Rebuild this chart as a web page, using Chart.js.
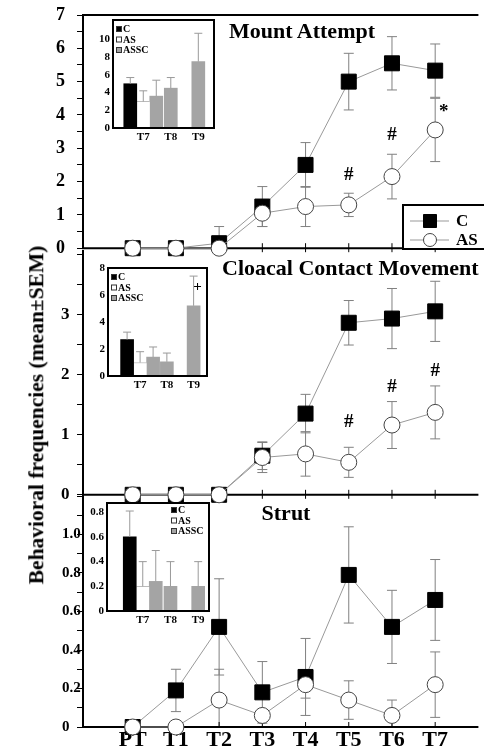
<!DOCTYPE html>
<html>
<head>
<meta charset="utf-8">
<script src="https://cdn.jsdelivr.net/npm/chart.js@4.4.0/dist/chart.umd.min.js"></script>
<style>
html, body { margin: 0; padding: 0; background: #fff; overflow: hidden; }
#wrap { position: relative; width: 484px; height: 754px; overflow: hidden; }
canvas { position: absolute; }
.ttl { position: absolute; font-family: 'Liberation Serif', 'Times New Roman', serif; font-weight: bold; white-space: nowrap; color: #000; line-height: 1; }
</style>
</head>
<body>
<div id="wrap">
  <canvas id="p1" width="490" height="262" style="left:0;top:0"></canvas>
  <canvas id="p2" width="490" height="270" style="left:0;top:238px"></canvas>
  <canvas id="p3" width="490" height="270" style="left:0;top:484px"></canvas>
  <canvas id="i1" width="130" height="140" style="left:88px;top:10px"></canvas>
  <canvas id="i2" width="130" height="140" style="left:83px;top:258px"></canvas>
  <canvas id="i3" width="135" height="140" style="left:78px;top:493px"></canvas>
  <div class="ttl" style="font-size:22px;left:302px;top:31px;transform:translate(-50%,-50%)">Mount Attempt</div>
  <div class="ttl" style="font-size:22px;left:222px;top:268px;transform:translate(0,-50%)">Cloacal Contact Movement</div>
  <div class="ttl" style="font-size:22px;left:286px;top:513px;transform:translate(-50%,-50%)">Strut</div>
  <div class="ttl" style="font-size:21.5px;left:37px;top:415px;transform:translate(-50%,-50%) rotate(-90deg)">Behavioral frequencies (mean±SEM)</div>
</div>
<script>
const serif = "'Liberation Serif', 'Times New Roman', serif";
Chart.defaults.font.family = serif;

// sessions on the x axis
const sessions = ['PT', 'T1', 'T2', 'T3', 'T4', 'T5', 'T6', 'T7'];

// Mount Attempt (mean, SEM)
const mountC     = [0, 0, 0.15, 1.25, 2.5, 5.0, 5.55, 5.33];
const mountCErr  = [0, 0, 0.5, 0.6, 0.67, 0.85, 0.8, 0.8];
const mountAS    = [0, 0, 0, 1.05, 1.25, 1.3, 2.15, 3.55];
const mountASErr = [0, 0, 0, 0.4, 0.6, 0.35, 0.67, 0.95];
const mountNotes = [{x: 5, y: 2.2, text: '#'}, {x: 6, y: 3.4, text: '#'}, {x: 7.2, y: 4.1, text: '*'}];

// Cloacal Contact Movement
const cloacaC     = [0, 0, 0, 0.65, 1.35, 2.86, 2.93, 3.05];
const cloacaCErr  = [0, 0, 0, 0.23, 0.32, 0.37, 0.5, 0.5];
const cloacaAS    = [0, 0, 0, 0.62, 0.68, 0.54, 1.16, 1.37];
const cloacaASErr = [0, 0, 0, 0.25, 0.37, 0.25, 0.39, 0.44];
const cloacaNotes = [{x: 5, y: 1.21, text: '#'}, {x: 6, y: 1.79, text: '#'}, {x: 7, y: 2.05, text: '#'}];

// Strut
const strutC     = [0, 0.19, 0.52, 0.18, 0.26, 0.79, 0.52, 0.66];
const strutCErr  = [0, 0.11, 0.25, 0.16, 0.2, 0.25, 0.19, 0.21];
const strutAS    = [0, 0, 0.14, 0.06, 0.22, 0.14, 0.06, 0.22];
const strutASErr = [0, 0, 0.16, 0, 0.07, 0.1, 0.08, 0.17];

// inset bar charts
const insetGroups = ['T7', 'T8', 'T9'];
const mountInC = [5.0, null, null],   mountInCErr = [0.7, null, null];
const mountInAS = [3.0, null, null],  mountInASErr = [1.2, null, null];
const mountInASSC = [3.6, 4.5, 7.5],  mountInASSCErr = [1.8, 1.2, 3.2];
const cloacaInC = [2.7, null, null],  cloacaInCErr = [0.55, null, null];
const cloacaInAS = [1.0, null, null], cloacaInASErr = [0.8, null, null];
const cloacaInASSC = [1.4, 1.05, 5.2], cloacaInASSCErr = [0.75, 0.65, 2.2];
const cloacaInNotes = [{x: 2.15, y: 6.6, text: '+'}];
const strutInC = [0.6, null, null],   strutInCErr = [0.21, null, null];
const strutInAS = [0.2, null, null],  strutInASErr = [0.2, null, null];
const strutInASSC = [0.24, 0.2, 0.2], strutInASSCErr = [0.25, 0.2, 0.2];

// error bars from the dataset's err array
const errorBars = {
  id: 'errorBars',
  draw(chart, o) {
    const ctx = chart.ctx, y = chart.scales.y;
    ctx.save();
    ctx.strokeStyle = o.color;
    ctx.lineWidth = 1;
    chart.data.datasets.forEach((ds, i) => {
      if (!ds.err) return;
      chart.getDatasetMeta(i).data.forEach((el, j) => {
        const e = ds.err[j], v = ds.data[j];
        if (!e || v == null) return;
        const top = y.getPixelForValue(v + e);
        const bot = o.upOnly ? y.getPixelForValue(v) : y.getPixelForValue(Math.max(0, v - e));
        ctx.beginPath();
        ctx.moveTo(el.x, top); ctx.lineTo(el.x, bot);
        ctx.moveTo(el.x - o.cap, top); ctx.lineTo(el.x + o.cap, top);
        if (!o.upOnly && v - e > 0) { ctx.moveTo(el.x - o.cap, bot); ctx.lineTo(el.x + o.cap, bot); }
        ctx.stroke();
      });
    });
    ctx.restore();
  },
  beforeDatasetsDraw(chart, args, o) { if (!o.upOnly) this.draw(chart, o); },
  afterDatasetsDraw(chart, args, o) { if (o.upOnly) this.draw(chart, o); }
};

// frame lines and x tick marks of a main panel
const frame = {
  id: 'frame',
  beforeDatasetsDraw(chart, args, o) {
    const ctx = chart.ctx, a = chart.chartArea, x = chart.scales.x;
    ctx.save();
    ctx.strokeStyle = '#000';
    ctx.lineWidth = 2;
    ctx.beginPath();
    if (o.top) { ctx.moveTo(a.left - 1, a.top); ctx.lineTo(a.right, a.top); }
    ctx.moveTo(a.left - 1, a.bottom); ctx.lineTo(a.right, a.bottom);
    ctx.stroke();
    ctx.lineWidth = 1;
    ctx.beginPath();
    sessions.forEach((s, i) => {
      const px = x.getPixelForValue(i);
      ctx.moveTo(px, a.bottom - 5);
      ctx.lineTo(px, a.bottom + (o.down ? 4 : 0));
    });
    ctx.stroke();
    ctx.restore();
  }
};

// text marks (#, *, +) placed at data coordinates
const notes = {
  id: 'notes',
  afterDraw(chart, args, o) {
    if (!o.items) return;
    const ctx = chart.ctx;
    ctx.save();
    ctx.fillStyle = '#000';
    ctx.font = 'bold ' + o.size + 'px ' + serif;
    ctx.textAlign = 'center';
    ctx.textBaseline = 'middle';
    o.items.forEach(n => {
      ctx.fillText(n.text, chart.scales.x.getPixelForValue(n.x), chart.scales.y.getPixelForValue(n.y));
    });
    ctx.restore();
  }
};

// boxed legend of the main chart
const mainLegend = {
  id: 'mainLegend',
  afterDraw(chart, args, o) {
    if (!o.box) return;
    const ctx = chart.ctx, b = o.box;
    ctx.save();
    ctx.fillStyle = '#fff';
    ctx.fillRect(b.left, b.top, b.width, b.height);
    ctx.lineWidth = 2;
    ctx.strokeStyle = '#000';
    ctx.strokeRect(b.left, b.top, b.width, b.height);
    ['C', 'AS'].forEach((lab, k) => {
      const ds = chart.data.datasets.find(d => d.label === lab);
      const y = b.top + o.rows[k];
      const cx = b.left + 27;
      ctx.strokeStyle = ds.borderColor;
      ctx.lineWidth = 1;
      ctx.beginPath(); ctx.moveTo(b.left + 7, y); ctx.lineTo(b.left + 46, y); ctx.stroke();
      ctx.fillStyle = ds.pointBackgroundColor;
      ctx.strokeStyle = ds.pointBorderColor;
      ctx.beginPath();
      if (ds.pointStyle === 'rect') ctx.rect(cx - 6.5, y - 6.5, 13, 13);
      else ctx.arc(cx, y, 6.5, 0, Math.PI * 2);
      ctx.fill(); ctx.stroke();
      ctx.fillStyle = '#000';
      ctx.font = 'bold 17px ' + serif;
      ctx.textBaseline = 'middle';
      ctx.fillText(lab, b.left + 53, y + 1);
    });
    ctx.restore();
  }
};

// white boxed plot area with a small legend for the insets
const insetBox = {
  id: 'insetBox',
  beforeDraw(chart) {
    const a = chart.chartArea, ctx = chart.ctx;
    ctx.save(); ctx.fillStyle = '#fff';
    ctx.fillRect(a.left, a.top, a.right - a.left, a.bottom - a.top);
    ctx.restore();
  },
  afterDraw(chart, args, o) {
    const a = chart.chartArea, ctx = chart.ctx;
    ctx.save();
    ctx.lineWidth = 2; ctx.strokeStyle = '#000';
    ctx.strokeRect(a.left, a.top, a.right - a.left, a.bottom - a.top);
    ctx.font = 'bold 10px ' + serif;
    ctx.textBaseline = 'middle';
    chart.data.datasets.forEach((ds, k) => {
      const x = a.left + o.dx, y = a.top + o.dy + k * 10.5;
      ctx.fillStyle = ds.backgroundColor;
      ctx.fillRect(x, y - 3, 6, 6);
      ctx.lineWidth = 1; ctx.strokeStyle = '#333';
      ctx.strokeRect(x + 0.5, y - 2.5, 5, 5);
      ctx.fillStyle = '#000';
      ctx.fillText(ds.label, x + 7, y + 0.5);
    });
    ctx.restore();
  }
};

function makePanel(id, p) {
  return new Chart(document.getElementById(id), {
    type: 'line',
    data: {
      labels: sessions.map((s, i) => i),
      datasets: [
        { label: 'AS', data: p.as, err: p.asErr, order: 0, clip: false,
          pointStyle: 'circle', pointRadius: 8, pointBackgroundColor: '#fff',
          pointBorderColor: '#444', pointBorderWidth: 1,
          borderColor: '#999', borderWidth: 1 },
        { label: 'C', data: p.c, err: p.cErr, order: 1, clip: false,
          pointStyle: 'rect', pointRadius: 10.6, pointBackgroundColor: '#000',
          pointBorderColor: '#000', pointBorderWidth: 1,
          borderColor: '#999', borderWidth: 1 }
      ]
    },
    options: {
      animation: false, responsive: false, events: [],
      layout: { padding: { left: p.left, right: 0, top: 12 + (p.extraTop || 0), bottom: p.bottomPad } },
      scales: {
        x: {
          type: 'linear', min: -1.15, max: 8.0, display: p.showX, offset: false,
          afterBuildTicks(s) { s.ticks = sessions.map((n, i) => ({ value: i })); },
          afterFit(s) { s.height = p.showX ? 27 : 0; },
          ticks: { callback: v => sessions[v], color: '#000', padding: 0, autoSkip: false, maxRotation: 0,
                   font: { size: 22, weight: 'bold' } },
          grid: { display: false, drawTicks: false },
          border: { display: false }
        },
        y: {
          min: 0, max: p.max,
          afterFit(s) { s.width = 83 - p.left; },
          afterBuildTicks(s) { s.ticks = p.ticks.map(v => ({ value: v })); },
          ticks: { crossAlign: 'far', color: '#000', autoSkip: false, callback: p.fmt,
                   font: { size: p.font, weight: 'bold' } },
          grid: { drawOnChartArea: false, tickLength: 6, color: '#000', lineWidth: 1 },
          border: { display: true, color: '#000', width: 2 }
        }
      },
      plugins: {
        legend: { display: false }, tooltip: { enabled: false },
        errorBars: { color: '#808080', cap: 5 },
        frame: { top: p.top, down: p.down },
        notes: { items: p.notes, size: 19 },
        mainLegend: { box: p.legendBox, rows: [16, 35] }
      }
    },
    plugins: [errorBars, frame, notes, mainLegend]
  });
}

function steps(max, step) {
  const out = [];
  for (let v = 0; v <= max + 1e-9; v += step) out.push(Math.round(v * 100) / 100);
  return out;
}

makePanel('p1', {
  c: mountC, cErr: mountCErr, as: mountAS, asErr: mountASErr, notes: mountNotes,
  left: 56, max: 7, ticks: steps(7, 0.5), font: 18, extraTop: 3, bottomPad: 12,
  fmt: v => Number.isInteger(v) ? String(v) : '', top: true, down: true, showX: false,
  legendBox: { left: 403, top: 205, width: 92, height: 44 }
});

makePanel('p2', {
  c: cloacaC, cErr: cloacaCErr, as: cloacaAS, asErr: cloacaASErr, notes: cloacaNotes,
  left: 61, max: 4.05, ticks: steps(4, 0.5), font: 17, bottomPad: 12,
  fmt: v => (Number.isInteger(v) && v < 4) ? String(v) : '', top: false, down: true, showX: false
});

makePanel('p3', {
  c: strutC, cErr: strutCErr, as: strutAS, asErr: strutASErr, notes: [],
  left: 62, max: 1.2, ticks: steps(1.2, 0.1), font: 15, bottomPad: 0,
  fmt: v => v === 0 ? '0' : (Math.round(v * 10) % 2 === 0 && v < 1.1 ? v.toFixed(1) : ''),
  top: false, down: false, showX: true
});

function makeInset(id, q) {
  return new Chart(document.getElementById(id), {
    type: 'bar',
    data: {
      labels: insetGroups.map((g, i) => i),
      datasets: [
        { label: 'C', data: q.c, err: q.cErr, backgroundColor: '#000' },
        { label: 'AS', data: q.as, err: q.asErr, backgroundColor: '#fff', borderColor: '#bbb',
          borderWidth: { top: 1, left: 0, right: 0, bottom: 0 }, borderSkipped: 'bottom' },
        { label: 'ASSC', data: q.assc, err: q.asscErr, backgroundColor: '#a4a4a4' }
      ]
    },
    options: {
      animation: false, responsive: false, events: [],
      layout: { padding: { left: 0, right: q.right, top: 10, bottom: 0 } },
      datasets: { bar: { barThickness: 13, skipNull: true } },
      scales: {
        x: {
          type: 'linear', min: q.xMin, max: q.xMax, offset: false,
          afterBuildTicks(s) { s.ticks = insetGroups.map((g, i) => ({ value: i })); },
          afterFit(s) { s.height = 22; },
          ticks: { callback: v => insetGroups[v], color: '#000', padding: 3, autoSkip: false, maxRotation: 0,
                   font: { size: 11, weight: 'bold' } },
          grid: { display: false, drawTicks: false },
          border: { display: false }
        },
        y: {
          min: 0, max: q.max,
          afterFit(s) { s.width = q.yWidth; },
          afterBuildTicks(s) { s.ticks = q.ticks.map(v => ({ value: v })); },
          ticks: { color: '#000', padding: 3, autoSkip: false, callback: q.fmt,
                   font: { size: 11, weight: 'bold' } },
          grid: { display: false, drawTicks: false },
          border: { display: false }
        }
      },
      plugins: {
        legend: { display: false }, tooltip: { enabled: false },
        errorBars: { color: '#9a9a9a', cap: 4, upOnly: true },
        insetBox: { dx: q.legendX, dy: q.legendY },
        notes: { items: q.notes || null, size: 15 }
      }
    },
    plugins: [insetBox, errorBars, notes]
  });
}

makeInset('i1', {
  c: mountInC, cErr: mountInCErr, as: mountInAS, asErr: mountInASErr, assc: mountInASSC, asscErr: mountInASSCErr,
  max: 12.2, ticks: [0, 2, 4, 6, 8, 10], fmt: v => String(v), yWidth: 25, right: 4,
  xMin: -1.1, xMax: 2.57, legendX: 3, legendY: 9
});

makeInset('i2', {
  c: cloacaInC, cErr: cloacaInCErr, as: cloacaInAS, asErr: cloacaInASErr, assc: cloacaInASSC, asscErr: cloacaInASSCErr,
  max: 8, ticks: [0, 2, 4, 6, 8], fmt: v => String(v), yWidth: 25, right: 6,
  xMin: -1.2, xMax: 2.5, legendX: 3, legendY: 9, notes: cloacaInNotes
});

makeInset('i3', {
  c: strutInC, cErr: strutInCErr, as: strutInAS, asErr: strutInASErr, assc: strutInASSC, asscErr: strutInASSCErr,
  max: 0.875, ticks: [0, 0.2, 0.4, 0.6, 0.8], fmt: v => v === 0 ? '0' : v.toFixed(1), yWidth: 29, right: 4,
  xMin: -1.29, xMax: 2.39, legendX: 64, legendY: 7
});
</script>
</body>
</html>
